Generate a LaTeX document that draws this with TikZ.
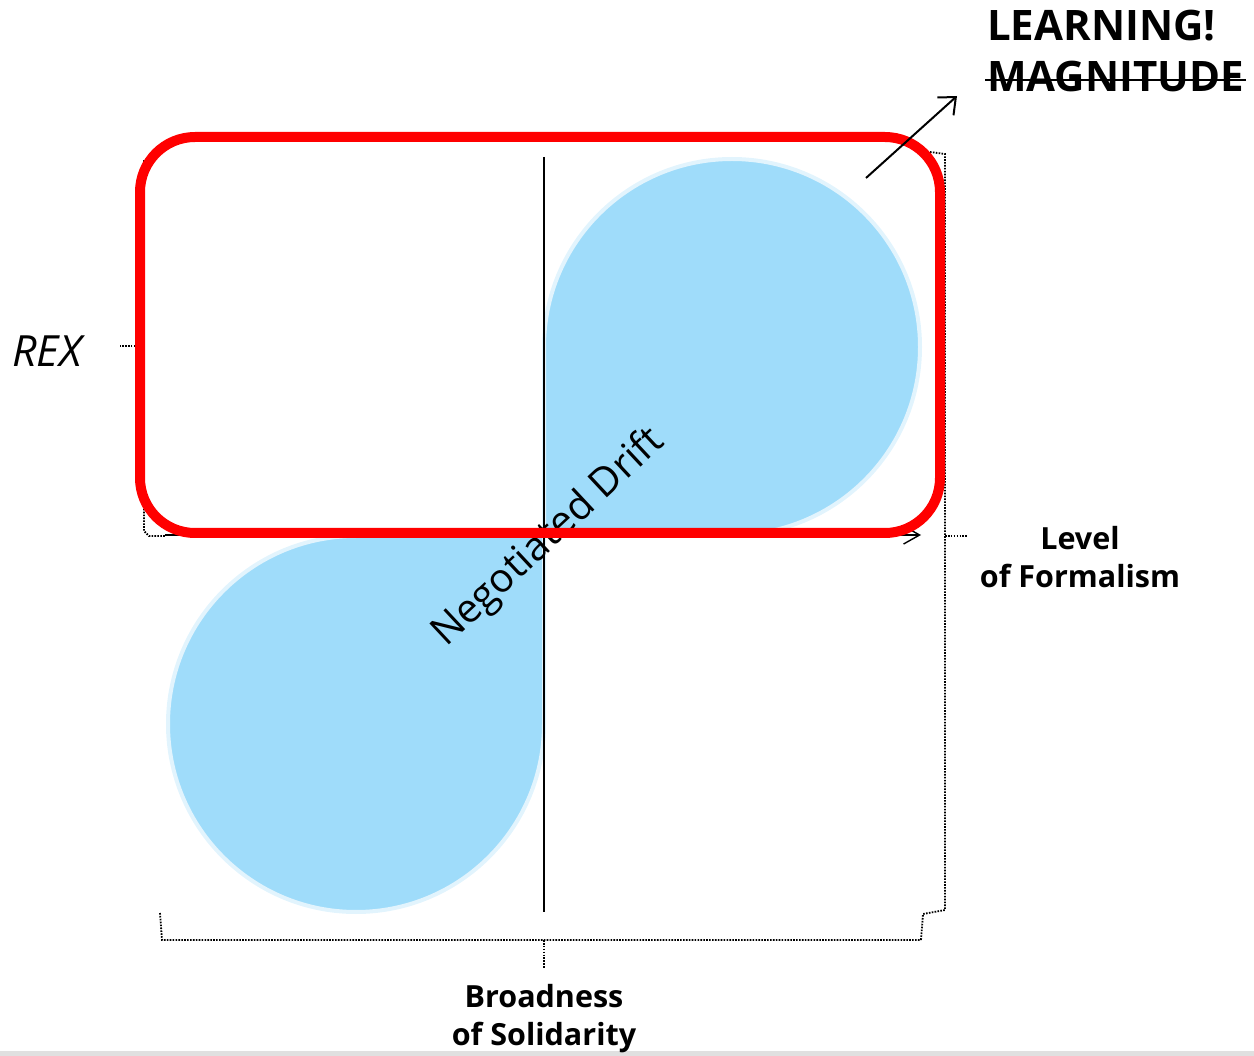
\documentclass[tikz,border=0pt]{standalone}
\usepackage{fontspec}
\setmainfont{Open Sans}
\usetikzlibrary{arrows.meta}
\definecolor{lobe}{RGB}{159,220,250}
\definecolor{lobeedge}{RGB}{226,244,253}
\definecolor{redframe}{RGB}{255,0,0}
\tikzset{
  lobestyle/.style={fill=lobe, draw=lobeedge, line width=4},
  axisline/.style={black, line width=1.4},
  bracket/.style={black, line width=1.8, dash pattern=on 1.6pt off 1.3pt},
  boldlabel/.style={font=\bfseries\fontsize{30.5}{38}\selectfont, align=center, inner sep=0},
  toplabel/.style={font=\bfseries\fontsize{42}{48}\selectfont, anchor=west, inner sep=0},
}
\begin{document}
\begin{tikzpicture}[x=1pt,y=-1pt]
\useasboundingbox (0,0) rectangle (1254,1056);
\fill[black!12] (0,1051) rectangle (1254,1056);
% blue lobes
\path[lobestyle] (544,535) -- (544,347) arc[start angle=180, end angle=450, radius=188] -- cycle;
\path[lobestyle] (544,535) -- (544,724) arc[start angle=0, end angle=270, radius=188] -- cycle;
% diagonal label
\node[font=\fontsize{40}{48}\selectfont, rotate=43, inner sep=0] (drift) at (549,538) {Negotiated Drift};
% axes
\coordinate (vtop) at (544,157);
\coordinate (vbot) at (544,912);
\coordinate (hleft) at (165,535);
\coordinate (hright) at (921,535);
\draw[axisline] (vtop) -- (vbot);
\draw[axisline, -{Straight Barb[length=16,width=18,line width=1.4]}] (hleft) -- (hright);
% dotted brackets
\draw[bracket] (152,157) -- (144,161) -- (144,531) -- (149,536) -- (165,536);
\draw[bracket] (144,346) -- (120,346);
\draw[bracket] (930,152) -- (945,154) -- (945,910) -- (923,914) -- (921,940);
\draw[bracket] (945,536) -- (968,536);
\draw[bracket] (160,913) -- (162,940) -- (921,940);
\draw[bracket] (544,940) -- (544,968);
% red frame
\draw[redframe, line width=10, rounded corners=55] (140,137) rectangle (940,533);
% arrow
\coordinate (arrstart) at (866,178);
\coordinate (arrend) at (957,96);
\draw[black, line width=2, -{Straight Barb[length=14,width=24,line width=2]}] (arrstart) -- (arrend);
% labels
\node[toplabel] (learn) at (987,26) {LEARNING!};
\node[toplabel] (mag) at (987,77) {MAGNITUDE};
\draw[black, line width=2.5] ([xshift=-2pt,yshift=-3pt]mag.west) -- ([xshift=2pt,yshift=-3pt]mag.east);
\node[font=\itshape\fontsize{43}{50}\selectfont, anchor=west, inner sep=0] (rex) at (12,351) {REX};
\node[boldlabel] (formal) at (1080,557) {Level\\of Formalism};
\node[boldlabel] (solid) at (544,1019) {Broadness\\of Solidarity};
\end{tikzpicture}
\end{document}
